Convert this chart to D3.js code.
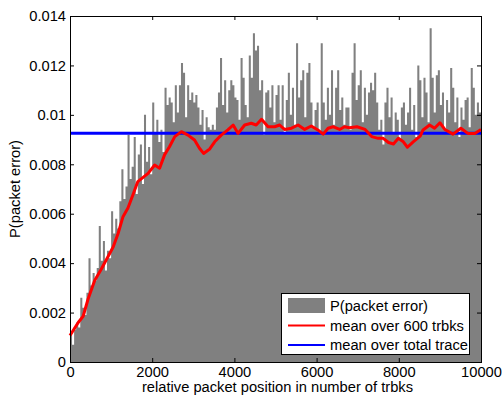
<!DOCTYPE html>
<html>
<head>
<meta charset="utf-8">
<script src="https://cdn.jsdelivr.net/npm/d3@7"></script>
<style>
  body { margin: 0; background: #fff; }
  svg text { font-family: "Liberation Sans", Arial, Helvetica, sans-serif; font-size: 14.7px; fill: #000; }
</style>
</head>
<body>
<div id="chart"></div>
<script>
// P(packet error) per bin of 50 trbks, 0 .. 10000
const binWidth = 50
const pErr = [
  0.0011, 0.0007, 0.0013, 0.0016, 0.0014, 0.0026, 0.0022, 0.0019, 0.0028, 0.0042,
  0.0031, 0.0036, 0.0033, 0.0038, 0.0055, 0.0041, 0.0049, 0.0037, 0.0045, 0.0042,
  0.0061, 0.0052, 0.0058, 0.0054, 0.0065, 0.0078, 0.0066, 0.0071, 0.0092, 0.0074,
  0.0079, 0.0091, 0.0068, 0.0084, 0.0088, 0.0072, 0.0100, 0.0081, 0.0087, 0.0076,
  0.0105, 0.0093, 0.0098, 0.0089, 0.0094, 0.0085, 0.0111, 0.0104, 0.0107, 0.0105,
  0.0097, 0.0112, 0.0101, 0.0112, 0.0121, 0.0117, 0.0099, 0.0112, 0.0106, 0.0109,
  0.0105, 0.0108, 0.0103, 0.0096, 0.0102, 0.0090, 0.0099, 0.0095, 0.0094, 0.0096,
  0.0094, 0.0103, 0.0109, 0.0123, 0.0104, 0.0114, 0.0101, 0.0110, 0.0114, 0.0112,
  0.0107, 0.0106, 0.0098, 0.0123, 0.0115, 0.0104, 0.0099, 0.0124, 0.0115, 0.0133,
  0.0126, 0.0128, 0.0110, 0.0114, 0.0092, 0.0109, 0.0110, 0.0103, 0.0112, 0.0097,
  0.0108, 0.0112, 0.0098, 0.0112, 0.0093, 0.0106, 0.0117, 0.0100, 0.0111, 0.0096,
  0.0129, 0.0107, 0.0114, 0.0118, 0.0099, 0.0117, 0.0121, 0.0105, 0.0095, 0.0102,
  0.0105, 0.0093, 0.0129, 0.0105, 0.0098, 0.0111, 0.0100, 0.0118, 0.0096, 0.0111,
  0.0118, 0.0102, 0.0107, 0.0096, 0.0103, 0.0103, 0.0094, 0.0117, 0.0129, 0.0106,
  0.0112, 0.0118, 0.0097, 0.0111, 0.0100, 0.0109, 0.0113, 0.0110, 0.0117, 0.0105,
  0.0094, 0.0098, 0.0088, 0.0105, 0.0111, 0.0099, 0.0107, 0.0093, 0.0101, 0.0098,
  0.0090, 0.0103, 0.0105, 0.0096, 0.0101, 0.0111, 0.0094, 0.0104, 0.0091, 0.0120,
  0.0114, 0.0099, 0.0115, 0.0109, 0.0097, 0.0135, 0.0115, 0.0101, 0.0116, 0.0118,
  0.0104, 0.0109, 0.0094, 0.0106, 0.0101, 0.0119, 0.0111, 0.0097, 0.0107, 0.0091,
  0.0103, 0.0098, 0.0106, 0.0107, 0.0095, 0.0119, 0.0111, 0.0100, 0.0105, 0.0101
]

// moving mean over 600 trbks
const meanPos = [
  0, 200, 320, 440, 600, 760, 920, 1050, 1170, 1290, 1410, 1530, 1650, 1900, 2060, 2180,
  2300, 2420, 2550, 2710, 2870, 3030, 3150, 3250, 3400, 3520, 3680, 3840, 3970, 4090,
  4250, 4410, 4530, 4660, 4820, 4980, 5100, 5220, 5390, 5550, 5710, 5870, 6030, 6160,
  6280, 6400, 6560, 6680, 6800, 6980, 7180, 7340, 7500, 7620, 7750, 7870, 7990, 8110,
  8210, 8350, 8520, 8590, 8750, 8870, 9000, 9120, 9320, 9510, 9680, 9850, 10000
]
const meanVal = [
  0.00107, 0.00160, 0.00185, 0.00255, 0.00330, 0.00375, 0.00425, 0.00465, 0.00520, 0.00588,
  0.00623, 0.00676, 0.00730, 0.00763, 0.00797, 0.00784, 0.00838, 0.00871, 0.00912, 0.00932,
  0.00918, 0.00898, 0.00865, 0.00844, 0.00862, 0.00891, 0.00918, 0.00939, 0.00959, 0.00925,
  0.00959, 0.00966, 0.00959, 0.00982, 0.00952, 0.00952, 0.00959, 0.00941, 0.00946, 0.00959,
  0.00941, 0.00955, 0.00939, 0.00922, 0.00946, 0.00952, 0.00941, 0.00952, 0.00948, 0.00952,
  0.00941, 0.00912, 0.00905, 0.00905, 0.00888, 0.00882, 0.00905, 0.00891, 0.00869, 0.00891,
  0.00914, 0.00939, 0.00959, 0.00946, 0.00968, 0.00941, 0.00922, 0.00946, 0.00925, 0.00925,
  0.00941
]

// mean over total trace
const totalMean = 0.00926

const xTicks = [0, 2000, 4000, 6000, 8000, 10000]
const yTicks = [0, 0.002, 0.004, 0.006, 0.008, 0.01, 0.012, 0.014]
const yTickLabels = ["0", "0.002", "0.004", "0.006", "0.008", "0.01", "0.012", "0.014"]

const legendLabels = ["P(packet error)", "mean over 600 trbks", "mean over total trace"]

const width = 503
const height = 399
const margin = { top: 16, right: 22, bottom: 37, left: 70 }
const contentWidth = width - margin.left - margin.right
const contentHeight = height - margin.top - margin.bottom

const svg = d3.select("#chart")
  .append("svg")
  .attr("width", width)
  .attr("height", height)

const g = svg.append("g")
  .attr("transform", "translate(" + margin.left + "," + margin.top + ")")

const x = d3.scaleLinear().domain([0, 10000]).range([0, contentWidth])
const y = d3.scaleLinear().domain([0, 0.014]).range([contentHeight, 0])

// bars, drawn as one stepped area so neighbouring bars leave no seams
const barData = pErr.map((v, i) => ({ t: i * binWidth, v: v }))
barData.push({ t: pErr.length * binWidth, v: pErr[pErr.length - 1] })

g.append("path")
  .datum(barData)
  .attr("fill", "#808080")
  .attr("d", d3.area()
    .curve(d3.curveStepAfter)
    .x(d => x(d.t))
    .y0(contentHeight)
    .y1(d => y(d.v)))

// total mean line
g.append("line")
  .attr("x1", x(0))
  .attr("x2", x(10000))
  .attr("y1", y(totalMean))
  .attr("y2", y(totalMean))
  .attr("stroke", "#0000ff")
  .attr("stroke-width", 3)

// moving mean line
const meanData = meanPos.map((t, i) => ({ t: t, v: meanVal[i] }))
g.append("path")
  .datum(meanData)
  .attr("fill", "none")
  .attr("stroke", "#ff0000")
  .attr("stroke-width", 3)
  .attr("stroke-linejoin", "round")
  .attr("d", d3.line().x(d => x(d.t)).y(d => y(d.v)))

// axes, matlab style: ticks pointing inwards on all four sides
const xAxis = d3.axisBottom(x).tickValues(xTicks).tickSizeInner(-4).tickSizeOuter(0).tickPadding(5)
  .tickFormat(d3.format("d"))
const yAxis = d3.axisLeft(y).tickValues(yTicks).tickSizeInner(-4).tickSizeOuter(0).tickPadding(4)
  .tickFormat((d, i) => yTickLabels[i])

g.append("g")
  .attr("transform", "translate(0," + contentHeight + ")")
  .call(xAxis)
g.append("g").call(yAxis)

g.append("g")
  .call(d3.axisTop(x).tickValues(xTicks).tickSizeInner(-4).tickSizeOuter(0).tickFormat(""))
g.append("g")
  .attr("transform", "translate(" + contentWidth + ",0)")
  .call(d3.axisRight(y).tickValues(yTicks).tickSizeInner(-4).tickSizeOuter(0).tickFormat(""))

g.selectAll(".domain").remove()
g.selectAll(".tick line").attr("stroke", "#000")
g.selectAll(".tick text").attr("font-size", null).attr("font-family", null)

// box
g.append("rect")
  .attr("x", 0.5)
  .attr("y", 0.5)
  .attr("width", contentWidth)
  .attr("height", contentHeight)
  .attr("fill", "none")
  .attr("stroke", "#000")
  .attr("stroke-width", 1)

// axis labels
svg.append("text")
  .attr("text-anchor", "middle")
  .attr("x", margin.left + contentWidth / 2 + 2)
  .attr("y", 392)
  .text("relative packet position in number of trbks")

svg.append("text")
  .attr("text-anchor", "middle")
  .attr("transform", "translate(20," + (margin.top + contentHeight / 2) + ") rotate(-90)")
  .text("P(packet error)")

// legend
const legend = svg.append("g").attr("transform", "translate(281,293)")
legend.append("rect")
  .attr("x", 0.5).attr("y", 0.5)
  .attr("width", 188).attr("height", 61)
  .attr("fill", "#fff").attr("stroke", "#000")

legend.append("rect")
  .attr("x", 7).attr("y", 5)
  .attr("width", 37).attr("height", 15)
  .attr("fill", "#808080")

const legendColors = [null, "#ff0000", "#0000ff"]
legendLabels.forEach((label, i) => {
  const cy = 13 + i * 19.5
  if (legendColors[i]) {
    legend.append("line")
      .attr("x1", 7).attr("x2", 44)
      .attr("y1", cy).attr("y2", cy)
      .attr("stroke", legendColors[i])
      .attr("stroke-width", 2)
  }
  legend.append("text")
    .attr("x", 49)
    .attr("y", cy)
    .attr("dy", "0.35em")
    .text(label)
})
</script>
</body>
</html>
